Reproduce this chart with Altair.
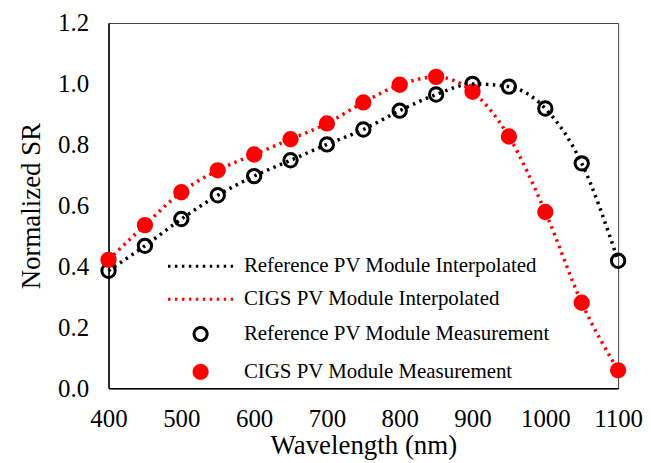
import altair as alt
import pandas as pd

wavelength = [400, 450, 500, 550, 600, 650, 700, 750, 800, 850, 900, 950, 1000, 1050, 1100]
ref_sr = [0.386, 0.468, 0.556, 0.634, 0.697, 0.749, 0.801, 0.850, 0.912, 0.965, 1.000, 0.991, 0.919, 0.739, 0.419]
cigs_sr = [0.422, 0.536, 0.644, 0.716, 0.768, 0.818, 0.870, 0.939, 0.997, 1.023, 0.974, 0.827, 0.579, 0.281, 0.059]

series_names = [
    "Reference PV Module Interpolated",
    "CIGS PV Module Interpolated",
    "Reference PV Module Measurement",
    "CIGS PV Module Measurement",
]

FONT = "Liberation Serif"

n = len(wavelength)
lines_df = pd.DataFrame({
    "wl": wavelength * 2,
    "sr": ref_sr + cigs_sr,
    "series": [series_names[0]] * n + [series_names[1]] * n,
})
points_df = pd.DataFrame({
    "wl": wavelength * 2,
    "sr": ref_sr + cigs_sr,
    "series": [series_names[2]] * n + [series_names[3]] * n,
})

stroke_scale = alt.Scale(domain=series_names, range=["#000000", "#FF0000", "#000000", "#FF0000"])
fill_scale = alt.Scale(domain=series_names, range=["transparent", "transparent", "transparent", "#FF0000"])
shape_scale = alt.Scale(domain=series_names, range=["M-5,0H5.4", "M-5,0H5.4", "circle", "circle"])
dash_scale = alt.Scale(domain=series_names, range=[[2.5, 4.5], [2.5, 4.5], [1, 0], [1, 0]])

legend = alt.Legend(
    title=None, orient="none", legendX=82, legendY=234,
    labelFont=FONT, labelFontSize=21, labelColor="#000000", labelLimit=0,
    symbolSize=172, symbolStrokeWidth=3, rowPadding=11, labelOffset=33,
)

x_enc = alt.X("wl:Q", scale=alt.Scale(domain=[400, 1100], nice=False),
              axis=alt.Axis(values=[400, 500, 600, 700, 800, 900, 1000, 1100], format="d",
                            labelOverlap=False, labelFlush=False,
                            title="Wavelength (nm)", labelPadding=18, titlePadding=2,
                            labelFont=FONT, titleFont=FONT))
y_enc = alt.Y("sr:Q", scale=alt.Scale(domain=[0, 1.2], nice=False),
              axis=alt.Axis(values=[0, 0.2, 0.4, 0.6, 0.8, 1.0, 1.2], format=".1f",
                            labelOverlap=False, labelFlush=False,
                            title="Normalized SR", labelPadding=20, titlePadding=12,
                            labelFont=FONT, titleFont=FONT))

points = alt.Chart(points_df).mark_point(size=180, strokeWidth=3, opacity=1).encode(
    x=x_enc, y=y_enc,
    stroke=alt.Stroke("series:N", scale=stroke_scale, legend=legend),
    fill=alt.Fill("series:N", scale=fill_scale, legend=legend),
    shape=alt.Shape("series:N", scale=shape_scale, legend=legend),
)

lines = alt.Chart(lines_df).mark_line(strokeWidth=3.5, interpolate="monotone").encode(
    x=x_enc, y=y_enc,
    stroke=alt.Stroke("series:N", scale=stroke_scale, legend=legend),
    strokeDash=alt.StrokeDash("series:N", scale=dash_scale, legend=legend),
)

chart = alt.layer(points, lines).properties(
    width=512, height=367,
    padding={"left": 9, "top": 2, "right": 0, "bottom": 0},
).configure(
    font=FONT
).configure_view(
    stroke="#404040", strokeWidth=1
).configure_axis(
    grid=False, ticks=False, domainColor="#000000", domainWidth=1.5,
    labelFont=FONT, labelFontSize=25, labelColor="#000000",
    titleFont=FONT, titleFontSize=27, titleFontWeight="normal", titleColor="#000000",
)

chart.save("out.html", embed_options={"renderer": "svg", "actions": False})
